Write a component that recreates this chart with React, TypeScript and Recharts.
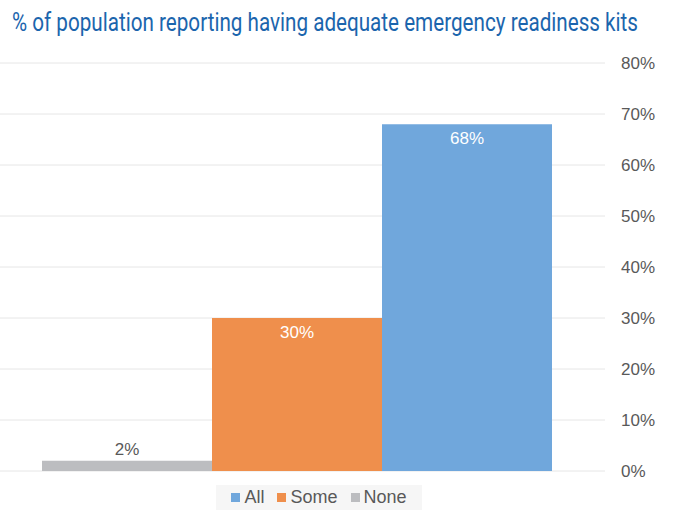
import React from 'react';
import { BarChart, Bar, XAxis, YAxis, CartesianGrid, Legend, LabelList } from 'recharts';

const seriesNames = ['None', 'Some', 'All'];
const seriesKeys = ['none', 'some', 'all'];
const seriesValues = [2, 30, 68];
const seriesColors = ['#bcbdc0', '#ef8f4c', '#70a7dc'];
const legendOrder = ['All', 'Some', 'None'];
const yTicks = [0, 10, 20, 30, 40, 50, 60, 70, 80];
const title = '% of population reporting having adequate emergency readiness kits';

const row: Record<string, any> = { name: 'kits' };
seriesKeys.forEach((k, i) => {
  row[k] = seriesValues[i];
});
const data = [row];

const LegendBox = () => (
  <div
    style={{
      background: '#f6f6f6',
      display: 'flex',
      justifyContent: 'center',
      gap: 13,
      fontFamily: '"Liberation Sans", Arial, sans-serif',
      fontSize: 18,
      color: '#595959',
      lineHeight: '25px',
    }}
  >
    {legendOrder.map((n) => {
      const c = seriesColors[seriesNames.indexOf(n)];
      return (
        <span key={n} style={{ display: 'flex', alignItems: 'center' }}>
          <span style={{ width: 9, height: 9, background: c, marginRight: 4, display: 'inline-block' }} />
          {n}
        </span>
      );
    })}
  </div>
);

const App: React.FC = () => {
  return (
    <div style={{ position: 'absolute', left: 0, top: 0, width: 675, height: 510, background: '#fff' }}>
      <svg width={675} height={50} style={{ position: 'absolute', left: 0, top: 0, zIndex: 2 }}>
        <text
          x={12}
          y={31}
          textLength={626}
          lengthAdjust="spacingAndGlyphs"
          fill="#1b65ad"
          fontSize={25}
          fontFamily="Roboto, sans-serif"
        >
          {title}
        </text>
      </svg>
      <BarChart
        width={675}
        height={510}
        data={data}
        margin={{ top: 63, right: 0, bottom: 14, left: 0 }}
        barGap={0}
        barCategoryGap={0}
      >
        <CartesianGrid vertical={false} stroke="#e6e6e6" />
        <XAxis
          dataKey="name"
          tick={false}
          tickLine={false}
          height={0}
          axisLine={{ stroke: '#8a8a8a', strokeWidth: 1.5 }}
          padding={{ left: 42, right: 54 }}
        />
        <YAxis
          orientation="right"
          width={70}
          domain={[0, 80]}
          ticks={yTicks}
          tickFormatter={(v) => `${v}%`}
          axisLine={false}
          tickLine={false}
          tickMargin={10}
          tick={{ fill: '#595959', fontSize: 17, fontFamily: '"Liberation Sans", Arial, sans-serif' }}
        />
        <Legend
          content={<LegendBox />}
          wrapperStyle={{ left: 216, width: 206, top: 485 }}
        />
        {seriesKeys.map((k, i) => (
          <Bar key={k} dataKey={k} name={seriesNames[i]} fill={seriesColors[i]} isAnimationActive={false}>
            <LabelList
              dataKey={k}
              position={i === 0 ? 'top' : 'insideTop'}
              offset={i === 0 ? 6 : 8}
              formatter={(v: any) => `${v}%`}
              fill={i === 0 ? '#595959' : '#ffffff'}
              style={{ fontSize: 17, fontFamily: '"Liberation Sans", Arial, sans-serif' }}
            />
          </Bar>
        ))}
      </BarChart>
    </div>
  );
};

export default App;
